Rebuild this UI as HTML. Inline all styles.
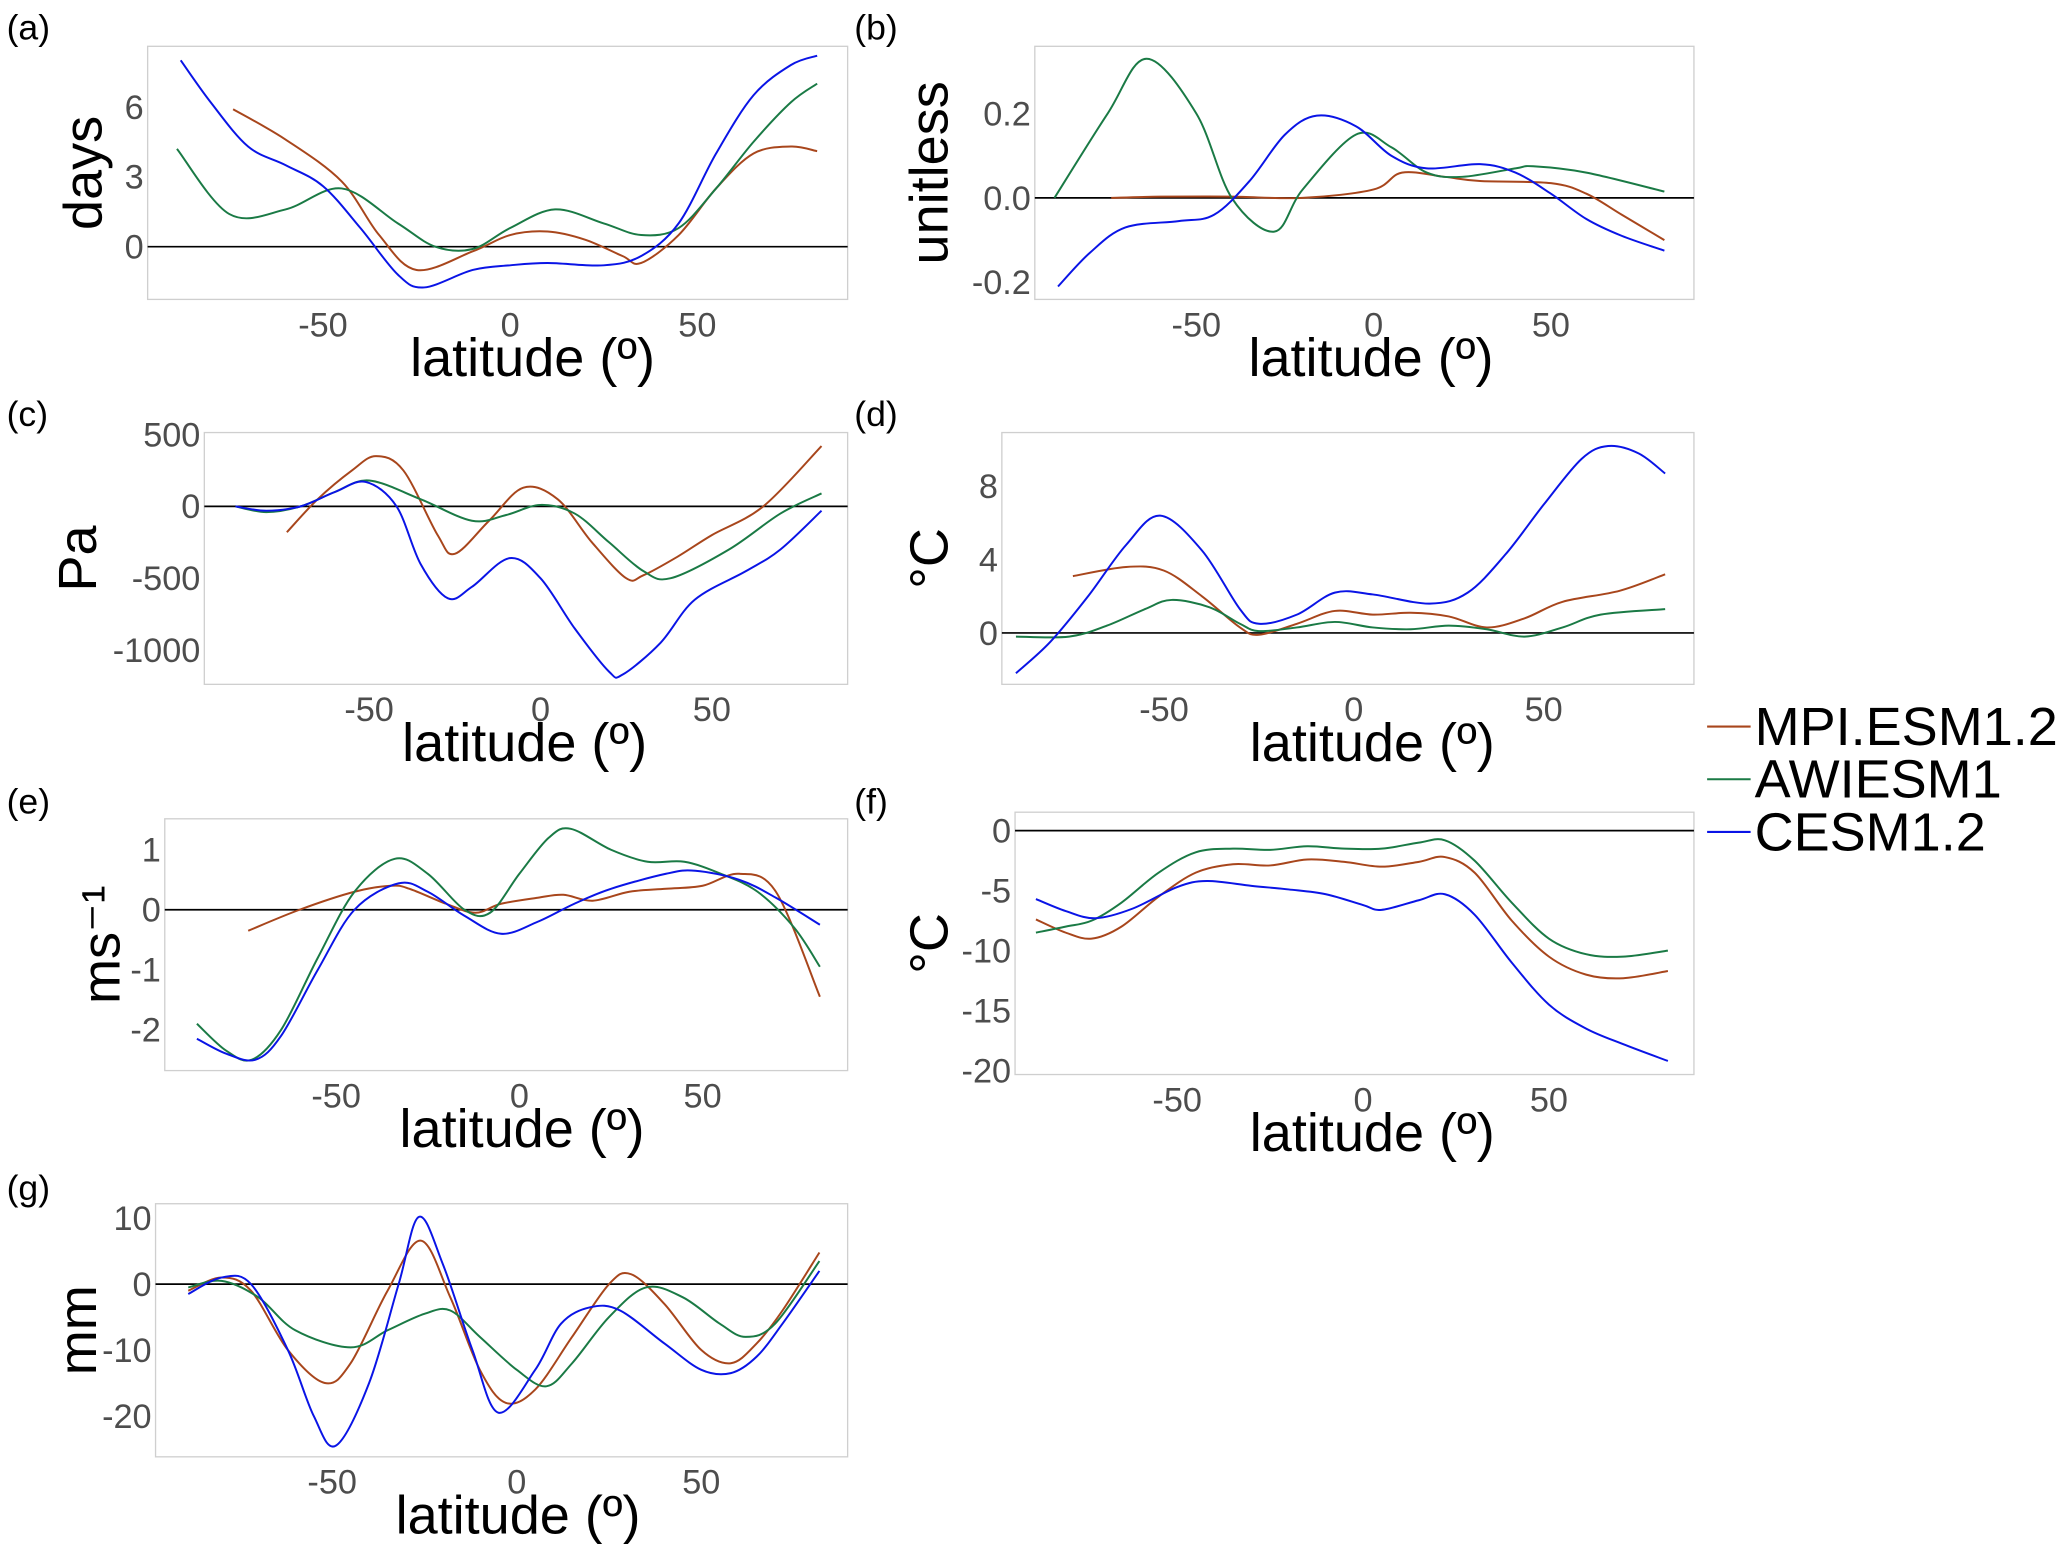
<!DOCTYPE html>
<html><head><meta charset="utf-8"><style>
html,body{margin:0;padding:0;background:#fff}
svg{display:block}
text{font-family:"Liberation Sans",sans-serif}
</style></head><body>
<svg id="fig" width="2067" height="1544" viewBox="0 0 1568 1171" xmlns="http://www.w3.org/2000/svg">
<g id="legend">
<g><line x1="1295" y1="551" x2="1328" y2="551" stroke="#a8461c" stroke-width="1.6"/><text x="1331" y="565" font-size="41">MPI.ESM1.2</text></g>
<g><line x1="1295" y1="591" x2="1328" y2="591" stroke="#1a7a45" stroke-width="1.6"/><text x="1331" y="605" font-size="41">AWIESM1</text></g>
<g><line x1="1295" y1="631" x2="1328" y2="631" stroke="#0a14e6" stroke-width="1.6"/><text x="1331" y="645" font-size="41">CESM1.2</text></g>
</g>
</svg>
<script>
// ---- data ----
const xTicks=[-50,0,50];
// (a) days
const aLatMPI=[-74,-60,-45,-35,-25,-10,0,10,20,30,35,45,55,65,75,82];
const aMPI=[5.9,4.6,2.8,0.5,-1.0,-0.2,0.5,0.65,0.3,-0.4,-0.7,0.5,2.5,4.0,4.3,4.1];
const aLatAWI=[-89,-75,-60,-45,-30,-20,-10,0,12,25,35,45,55,65,75,82];
const aAWI=[4.2,1.4,1.6,2.5,1.0,0.0,-0.1,0.8,1.6,1.0,0.5,0.8,2.5,4.5,6.2,7.0];
const aLatCESM=[-88,-80,-70,-60,-50,-40,-30,-23,-10,0,10,25,35,45,55,65,75,82];
const aCESM=[8.0,6.2,4.3,3.5,2.6,0.8,-1.2,-1.75,-1.0,-0.8,-0.7,-0.8,-0.4,1.0,4.0,6.5,7.8,8.2];
const aYTicks=[0,3,6];
// (b) unitless
const bLatMPI=[-74,-60,-40,-20,0,8,20,30,50,60,70,82];
const bMPI=[0,0.003,0.003,0.0,0.02,0.06,0.05,0.04,0.035,0.01,-0.04,-0.10];
const bLatAWI=[-90,-75,-64,-50,-40,-28,-20,-5,5,15,25,40,45,60,82];
const bAWI=[0,0.2,0.33,0.2,0.0,-0.08,0.02,0.15,0.12,0.06,0.05,0.07,0.075,0.06,0.015];
const bLatCESM=[-89,-80,-70,-55,-45,-35,-25,-16,-5,5,15,30,40,50,60,70,82];
const bCESM=[-0.21,-0.13,-0.07,-0.055,-0.04,0.04,0.15,0.195,0.17,0.1,0.07,0.08,0.06,0.01,-0.05,-0.09,-0.125];
const bYTicks=[-0.2,0.0,0.2];
const bYLabels=["-0.2","0.0","0.2"];
// (c) Pa
const cLatMPI=[-74,-65,-55,-48,-40,-30,-25,-15,-5,5,15,25,30,40,50,65,82];
const cMPI=[-180,50,250,350,250,-200,-330,-100,130,50,-250,-500,-480,-350,-200,0,420];
const cLatAWI=[-89,-80,-70,-60,-50,-35,-20,-10,0,10,20,30,38,55,70,82];
const cAWI=[0,-40,0,100,180,50,-100,-60,10,-50,-250,-450,-500,-300,-50,90];
const cLatCESM=[-89,-80,-70,-60,-51,-42,-35,-27,-20,-9,0,10,20,24,35,45,60,70,82];
const cCESM=[0,-30,0,100,170,0,-400,-640,-560,-360,-500,-850,-1150,-1170,-950,-650,-450,-300,-30];
const cYTicks=[-1000,-500,0,500];
// (d) °C
const dLatMPI=[-74,-60,-50,-40,-30,-25,-15,-5,5,15,25,35,45,55,70,82];
const dMPI=[3.1,3.6,3.4,2.0,0.3,-0.1,0.5,1.2,1.0,1.1,0.9,0.3,0.8,1.7,2.3,3.2];
const dLatAWI=[-89,-75,-65,-55,-48,-38,-30,-25,-15,-5,5,15,25,35,45,55,65,82];
const dAWI=[-0.2,-0.2,0.4,1.3,1.8,1.4,0.5,0.1,0.3,0.6,0.3,0.2,0.4,0.2,-0.2,0.3,1.0,1.3];
const dLatCESM=[-89,-80,-70,-60,-51,-40,-30,-25,-15,-5,5,20,30,40,50,60,67,75,82];
const dCESM=[-2.2,-0.5,2.0,4.8,6.4,4.5,1.3,0.5,1.0,2.2,2.1,1.6,2.2,4.3,7.0,9.5,10.2,9.8,8.7];
const dYTicks=[0,4,8];
// (e) ms-1
const eLatMPI=[-74,-60,-45,-35,-30,-20,-12,-5,5,12,20,30,40,50,60,70,82];
const eMPI=[-0.35,0.0,0.3,0.4,0.35,0.1,-0.05,0.1,0.2,0.25,0.15,0.3,0.35,0.4,0.6,0.3,-1.45];
const eLatAWI=[-88,-80,-73,-65,-55,-45,-34,-25,-15,-8,0,8,14,25,35,45,55,65,75,82];
const eAWI=[-1.9,-2.35,-2.5,-2.0,-0.8,0.3,0.85,0.6,0.0,-0.05,0.6,1.2,1.35,1.0,0.8,0.8,0.6,0.3,-0.3,-0.95];
const eLatCESM=[-88,-80,-72,-65,-55,-45,-33,-25,-15,-5,5,15,25,40,48,60,70,82];
const eCESM=[-2.15,-2.4,-2.5,-2.1,-1.0,0.0,0.44,0.3,-0.1,-0.4,-0.2,0.1,0.35,0.6,0.65,0.5,0.2,-0.25];
const eYTicks=[-2,-1,0,1];
// (f) °C
const fLat=[-88,-80,-73,-65,-55,-45,-35,-25,-15,-5,5,15,22,30,40,50,60,70,82];
const fMPI=[-7.4,-8.5,-9.0,-8.0,-5.5,-3.5,-2.8,-2.9,-2.4,-2.6,-3.0,-2.6,-2.2,-3.5,-7.5,-10.5,-12.0,-12.3,-11.7];
const fAWI=[-8.5,-8.0,-7.5,-6.0,-3.5,-1.8,-1.5,-1.6,-1.3,-1.5,-1.5,-1.0,-0.8,-2.5,-6.0,-9.0,-10.3,-10.5,-10.0];
const fLatCESM=[-88,-80,-72,-62,-50,-42,-30,-20,-10,0,5,15,22,30,40,50,60,70,82];
const fCESM=[-5.7,-6.7,-7.3,-6.5,-4.7,-4.2,-4.6,-4.9,-5.3,-6.2,-6.6,-5.8,-5.3,-7.0,-11.0,-14.5,-16.5,-17.8,-19.2];
const fYTicks=[-20,-15,-10,-5,0];
// (g) mm
const gLatMPI=[-89,-80,-72,-62,-52,-45,-35,-26,-18,-10,-3,5,15,25,31,40,50,58,65,72,82];
const gMPI=[-1.0,1.0,-1,-10,-15,-12,-1,6.6,-2,-13,-18,-16,-8,0,1.5,-3,-10,-12,-9,-4,4.8];
const gLatAWI=[-89,-80,-70,-60,-45,-35,-25,-18,-10,0,8,15,25,35,45,55,62,70,82];
const gAWI=[-0.5,0.5,-2,-7,-9.6,-7,-4.5,-4,-8,-13,-15.5,-12,-5,-0.5,-2,-6,-8,-6,3.5];
const gLatCESM=[-89,-80,-72,-62,-55,-49,-40,-32,-26.5,-20,-12,-5,5,12,20,28,40,50,58,65,72,82];
const gCESM=[-1.5,1.0,0,-10,-20,-24.5,-15,0,10.2,3,-10,-19.5,-13,-6,-3.5,-4,-9,-13,-13.5,-11,-6,2];
const gYTicks=[-20,-10,0,10];

// ---- layout ----
const COL={mpi:"#a8461c",awi:"#1a7a45",cesm:"#0a14e6"};
const panels=[
 {id:"a",label:"(a)",lx:5,ly:30,box:[112,35,643,227],x0:387,xs:2.84,y0:187,ys:17.67,yt:aYTicks,ytl:null,title:"days",tx:66,ttx:404,
  series:[["mpi",aLatMPI,aMPI],["awi",aLatAWI,aAWI],["cesm",aLatCESM,aCESM]]},
 {id:"b",label:"(b)",lx:648,ly:30,box:[785,35,1285,227],x0:1042,xs:2.69,y0:150,ys:320,yt:bYTicks,ytl:bYLabels,title:"unitless",tx:708,ttx:1040,
  series:[["mpi",bLatMPI,bMPI],["awi",bLatAWI,bAWI],["cesm",bLatCESM,bCESM]]},
 {id:"c",label:"(c)",lx:5,ly:323,box:[155,328,643,519],x0:410,xs:2.6,y0:384,ys:0.109,yt:cYTicks,ytl:null,title:"Pa",tx:62,ttx:398,
  series:[["mpi",cLatMPI,cMPI],["awi",cLatAWI,cAWI],["cesm",cLatCESM,cCESM]]},
 {id:"d",label:"(d)",lx:648,ly:323,box:[760,328,1285,519],x0:1027,xs:2.88,y0:480,ys:13.9,yt:dYTicks,ytl:null,title:"°C",tx:708,ttx:1041,
  series:[["mpi",dLatMPI,dMPI],["awi",dLatAWI,dAWI],["cesm",dLatCESM,dCESM]]},
 {id:"e",label:"(e)",lx:5,ly:617,box:[125,621,643,812],x0:394,xs:2.78,y0:690,ys:45.5,yt:eYTicks,ytl:null,title:"ms⁻¹",tx:80,ttx:396,
  series:[["mpi",eLatMPI,eMPI],["awi",eLatAWI,eAWI],["cesm",eLatCESM,eCESM]]},
 {id:"f",label:"(f)",lx:648,ly:617,box:[770,616,1285,815],x0:1034,xs:2.82,y0:630,ys:9.1,yt:fYTicks,ytl:null,title:"°C",tx:708,ttx:1041,
  series:[["mpi",fLat,fMPI],["awi",fLat,fAWI],["cesm",fLatCESM,fCESM]]},
 {id:"g",label:"(g)",lx:5,ly:910,box:[118,913,643,1105],x0:392,xs:2.8,y0:974,ys:5,yt:gYTicks,ytl:null,title:"mm",tx:62,ttx:393,
  series:[["mpi",gLatMPI,gMPI],["awi",gLatAWI,gAWI],["cesm",gLatCESM,gCESM]]}
];
const NS="http://www.w3.org/2000/svg";
const svg=document.getElementById("fig");
function mk(tag,attrs,parent,txt){const e=document.createElementNS(NS,tag);for(const k in attrs)e.setAttribute(k,attrs[k]);if(txt!==undefined)e.textContent=txt;parent.appendChild(e);return e;}
function spline(pts){
 let d="M"+pts[0][0].toFixed(2)+","+pts[0][1].toFixed(2);
 for(let i=0;i<pts.length-1;i++){
  const p0=pts[i-1]||pts[i],p1=pts[i],p2=pts[i+1],p3=pts[i+2]||pts[i+1];
  const c1=[p1[0]+(p2[0]-p0[0])/6,p1[1]+(p2[1]-p0[1])/6];
  const c2=[p2[0]-(p3[0]-p1[0])/6,p2[1]-(p3[1]-p1[1])/6];
  d+="C"+c1[0].toFixed(2)+","+c1[1].toFixed(2)+" "+c2[0].toFixed(2)+","+c2[1].toFixed(2)+" "+p2[0].toFixed(2)+","+p2[1].toFixed(2);
 }
 return d;
}
panels.forEach(p=>{
 const g=mk("g",{},svg);
 
 
 const xS=v=>p.x0+v*p.xs, yS=v=>p.y0-v*p.ys;
 const [x1,y1,x2,y2]=p.box;
 const lab=mk("text",{x:p.lx,y:p.ly,"font-size":27},g,p.label);
 
 
 const bx=mk("rect",{x:x1,y:y1,width:x2-x1,height:y2-y1,fill:"none",stroke:"#cfcfcf","stroke-width":1},g);
 
 
 const zl=mk("line",{x1:x1,x2:x2,y1:yS(0),y2:yS(0),stroke:"#000","stroke-width":1.3},g);
 
 
 xTicks.forEach(t=>{
  const e=mk("text",{x:xS(t),y:y2+28,"font-size":26,fill:"#4d4d4d","text-anchor":"middle"},g,String(t));
  
  
 });
 p.yt.forEach((t,i)=>{
  const e=mk("text",{x:x1-3,y:yS(t)+9,"font-size":26,fill:"#4d4d4d","text-anchor":"end"},g,p.ytl?p.ytl[i]:String(t));
  
  
 });
 const xt=mk("text",{x:p.ttx,y:y2+58,"font-size":41,"text-anchor":"middle"},g,"latitude (º)");
 
 
 const cy=(y1+y2)/2;
 const yt=mk("text",{x:p.tx,y:cy,"font-size":41,"text-anchor":"middle",transform:"rotate(-90 "+p.tx+" "+cy+")","dominant-baseline":"middle"},g,p.title);
 
 
 p.series.forEach(s=>{
  const pts=s[1].map((la,i)=>[xS(la),yS(s[2][i])]);
  const path=mk("path",{d:spline(pts),fill:"none",stroke:COL[s[0]],"stroke-width":1.5},g);
  
  
 });
});
</script>
</body></html>
